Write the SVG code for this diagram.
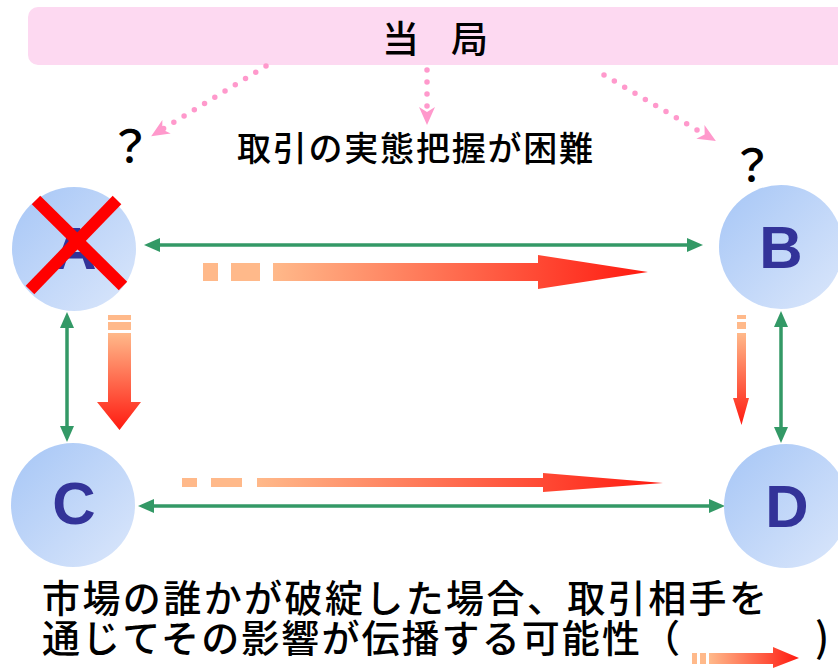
<svg xmlns="http://www.w3.org/2000/svg" width="838" height="669" viewBox="0 0 838 669">
<style>
.jp{font-family:"Noto Sans CJK JP","Noto Sans CJK SC",sans-serif;fill:#000;font-weight:500}
.lt{font-family:"Liberation Sans",Arial,sans-serif;font-weight:bold;font-size:60px;fill:#333399;text-anchor:middle}
.g{stroke:#339966;stroke-width:3.5;fill:none;marker-start:url(#ga);marker-end:url(#ga)}
.p{stroke:#ff99cc;stroke-width:5.5;stroke-linecap:round;stroke-dasharray:0 12;fill:none;marker-end:url(#pa)}
.dash{fill:#ffb98a}
</style>
<defs>
<linearGradient id="cg" x1="0" y1="0" x2="1" y2="1">
<stop offset="0" stop-color="#a6c6f6"/>
<stop offset="1" stop-color="#dbe7fb"/>
</linearGradient>
<linearGradient id="oh1" gradientUnits="userSpaceOnUse" x1="273" y1="0" x2="648" y2="0">
<stop offset="0" stop-color="#ffb98a"/><stop offset="1" stop-color="#ff1a10"/>
</linearGradient>
<linearGradient id="oh2" gradientUnits="userSpaceOnUse" x1="257" y1="0" x2="663" y2="0">
<stop offset="0" stop-color="#ffb98a"/><stop offset="1" stop-color="#ff1a10"/>
</linearGradient>
<linearGradient id="ov1" gradientUnits="userSpaceOnUse" x1="0" y1="333" x2="0" y2="430">
<stop offset="0" stop-color="#ffb98a"/><stop offset="1" stop-color="#ff1a10"/>
</linearGradient>
<linearGradient id="ov2" gradientUnits="userSpaceOnUse" x1="0" y1="333" x2="0" y2="425">
<stop offset="0" stop-color="#ffb98a"/><stop offset="1" stop-color="#ff1a10"/>
</linearGradient>
<linearGradient id="ol" gradientUnits="userSpaceOnUse" x1="709" y1="0" x2="799" y2="0">
<stop offset="0" stop-color="#ffb98a"/><stop offset="1" stop-color="#ff1a10"/>
</linearGradient>
<marker id="ga" viewBox="0 0 16 14" refX="10" refY="7" markerWidth="16" markerHeight="14" markerUnits="userSpaceOnUse" orient="auto-start-reverse">
<path d="M0,0 L16,7 L0,14 z" fill="#339966"/>
</marker>
<marker id="pa" viewBox="0 0 18 16" refX="10" refY="8" markerWidth="18" markerHeight="16" markerUnits="userSpaceOnUse" orient="auto">
<path d="M0,0 L18,8 L0,16 L5,8 z" fill="#ff99cc"/>
</marker>
</defs>
<rect width="838" height="669" fill="#ffffff"/>

<g id="authority">
<rect x="28" y="7" width="830" height="58" rx="10" fill="#fdd9f1"/>
<text class="jp" font-size="37" y="53"><tspan x="382">当</tspan><tspan x="451">局</tspan></text>
</g>

<g id="connectors">
<line class="p" x1="266" y1="66" x2="158" y2="132"/>
<line class="p" x1="427" y1="70" x2="427" y2="117"/>
<line class="p" x1="604" y1="75" x2="709" y2="137"/>
<line class="g" x1="150" y1="245" x2="697" y2="245"/>
<line class="g" x1="67" y1="318" x2="67" y2="436"/>
<line class="g" x1="781" y1="317" x2="781" y2="437"/>
<line class="g" x1="144" y1="506" x2="719" y2="506"/>
</g>

<g id="contagion">
<rect class="dash" x="203" y="263" width="15" height="18"/>
<rect class="dash" x="231" y="263" width="29" height="18"/>
<polygon points="273,263 538,263 538,255 648,272 538,289 538,281 273,281" fill="url(#oh1)"/>
<rect class="dash" x="108" y="315" width="23" height="5"/>
<rect class="dash" x="108" y="322" width="23" height="8"/>
<polygon points="108,333 131,333 131,402 141,402 119.5,430 97,402 108,402" fill="url(#ov1)"/>
<rect class="dash" x="737" y="315" width="9" height="4"/>
<rect class="dash" x="737" y="322" width="9" height="7"/>
<polygon points="737,333 746,333 746,398 749,398 741.5,425 733,398 737,398" fill="url(#ov2)"/>
<rect class="dash" x="182" y="478" width="15" height="9"/>
<rect class="dash" x="211" y="478" width="31" height="9"/>
<polygon points="257,478 543,478 543,473 663,483 543,492 543,487 257,487" fill="url(#oh2)"/>
</g>

<g id="nodeA">
<circle cx="74" cy="249" r="62" fill="url(#cg)"/>
<text class="lt" x="75" y="269">A</text>
<line x1="36" y1="200" x2="123" y2="286" stroke="#ff0000" stroke-width="12"/>
<line x1="117" y1="200" x2="30" y2="290" stroke="#ff0000" stroke-width="12"/>
</g>
<g id="nodeB">
<circle cx="781" cy="247" r="62" fill="url(#cg)"/>
<text class="lt" x="781" y="268">B</text>
</g>
<g id="nodeC">
<circle cx="73" cy="505" r="62" fill="url(#cg)"/>
<text class="lt" x="74" y="524">C</text>
</g>
<g id="nodeD">
<circle cx="786" cy="506" r="62" fill="url(#cg)"/>
<text class="lt" x="787" y="527">D</text>
</g>

<g id="labels">
<text class="jp" font-size="44" x="130" y="163" text-anchor="middle">？</text>
<text class="jp" font-size="44" x="752" y="182" text-anchor="middle">？</text>
<text class="jp" font-size="34" x="237" y="161" textLength="356" lengthAdjust="spacing">取引の実態把握が困難</text>
<text class="jp" font-size="38" x="42" y="612" textLength="725" lengthAdjust="spacing">市場の誰かが破綻した場合、取引相手を</text>
<text class="jp" font-size="38" x="42" y="652" textLength="638" lengthAdjust="spacing">通じてその影響が伝播する可能性（</text>
<text class="jp" font-size="40" x="815" y="652">)</text>
</g>

<g id="legend">
<rect class="dash" x="692" y="653" width="5" height="11"/>
<rect class="dash" x="700" y="653" width="6" height="11"/>
<polygon points="709,653 773,653 773,647 799,658 773,668 773,664 709,664" fill="url(#ol)"/>
</g>
</svg>
